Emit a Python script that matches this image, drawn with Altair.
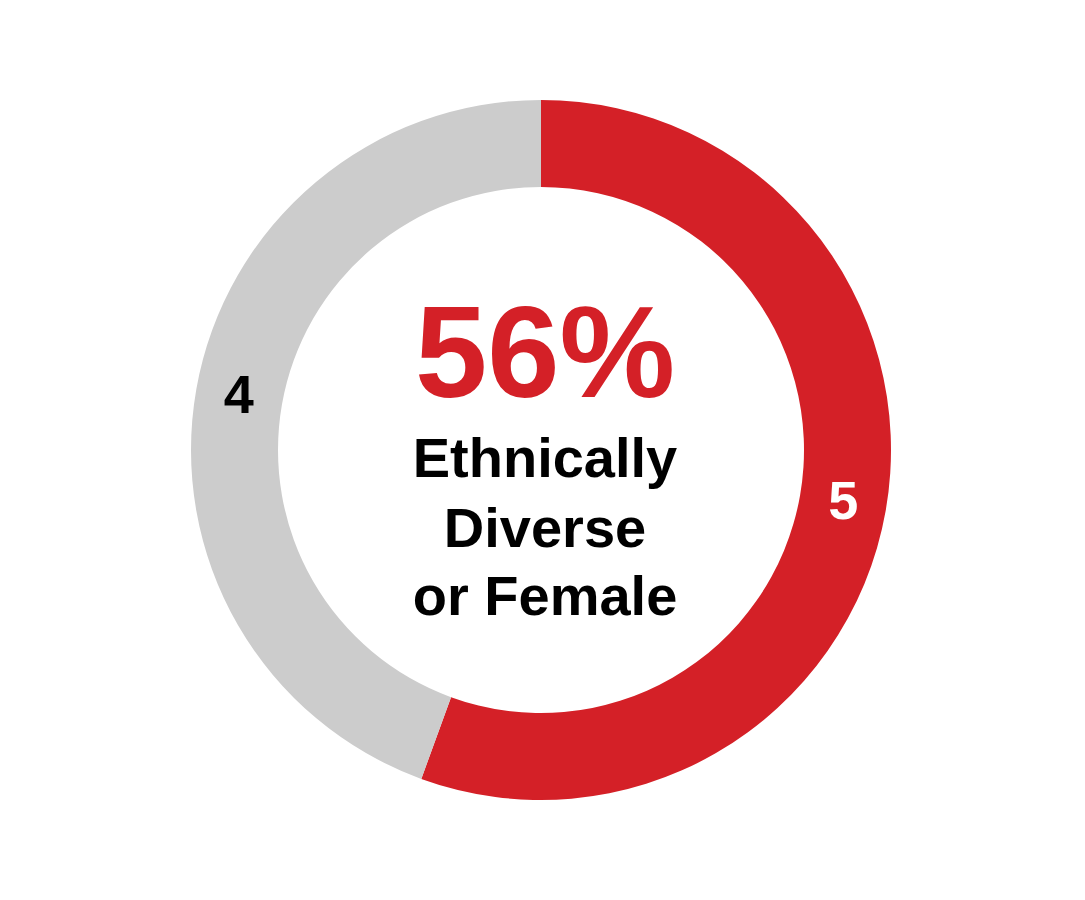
import altair as alt
import pandas as pd

categories = ["Ethnically Diverse or Female", "Other"]
values = [5, 4]
slice_colors = ["#D42027", "#CCCCCC"]
label_colors = ["#FFFFFF", "#000000"]
order = [0, 1]

center_big = "56%"
center_lines = ["Ethnically", "Diverse", "or Female"]

df = pd.DataFrame({
    "category": categories,
    "value": values,
    "color": slice_colors,
    "label_color": label_colors,
    "order": order,
    "label": [str(v) for v in values],
})

R_OUT, R_IN = 350, 263

base = alt.Chart(df).encode(
    theta=alt.Theta("value:Q", stack=True),
    order=alt.Order("order:Q"),
)

arcs = base.mark_arc(outerRadius=R_OUT, innerRadius=R_IN).encode(
    color=alt.Color("color:N", scale=None),
)

labels = base.mark_text(radius=307, font="Liberation Sans", fontWeight="bold",
                        fontSize=54, baseline="middle", align="center").encode(
    text="label:N",
    color=alt.Color("label_color:N", scale=None),
)

big = alt.Chart(pd.DataFrame({"t": [center_big]})).mark_text(
    font="Liberation Sans", fontWeight="bold", fontSize=130, color="#D42027",
    align="center", baseline="alphabetic",
).encode(x=alt.value(537), y=alt.value(389), text="t:N")

lines_df = pd.DataFrame({"t": center_lines, "y": [469, 539, 607]})
sub = alt.Chart(lines_df).mark_text(
    font="Liberation Sans", fontWeight="bold", fontSize=56, color="#000000",
    align="center", baseline="alphabetic",
).encode(x=alt.value(537), y=alt.Y("y:Q", scale=None, axis=None), text="t:N")

chart = alt.layer(arcs, labels, big, sub).properties(
    width=1066, height=884,
    autosize=alt.AutoSizeParams(type="none"),
    padding=0,
    background="#FFFFFF",
).configure_view(strokeWidth=0)

chart.save("out.html", embed_options={"renderer": "svg", "actions": False})
